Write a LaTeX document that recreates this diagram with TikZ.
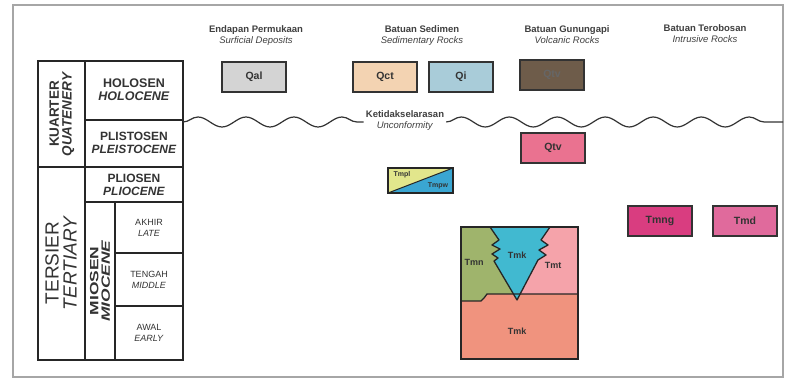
\documentclass[tikz,border=0pt]{standalone}
\usepackage{fontspec}
\setmainfont{Liberation Sans}
\usetikzlibrary{decorations.pathmorphing}
\definecolor[named]{QalGrey}{HTML}{D4D4D4}
\definecolor[named]{QctPeach}{HTML}{F3D3B2}
\definecolor[named]{QiBlue}{HTML}{A9CCD9}
\definecolor[named]{QtvBrown}{HTML}{6E5C4A}
\definecolor[named]{QtvPink}{HTML}{EA7290}
\definecolor[named]{TmplYellow}{HTML}{E2E68C}
\definecolor[named]{TmpwBlue}{HTML}{3AA6D2}
\definecolor[named]{TmngMagenta}{HTML}{D93D80}
\definecolor[named]{TmdPink}{HTML}{E06A9C}
\definecolor[named]{TmnGreen}{HTML}{9FB46C}
\definecolor[named]{TmkCyan}{HTML}{41B9D0}
\definecolor[named]{TmtPink}{HTML}{F5A3AA}
\definecolor[named]{TmkSalmon}{HTML}{F0937E}
% font size and baseline skip, both in pt
\newcommand{\fs}[2]{\fontsize{#1}{#2}\selectfont}
\tikzset{
  unitbox/.style={draw=black!80,line width=1.3pt,minimum width=64pt,minimum height=30pt,
    inner sep=0pt,font=\bfseries\fs{10.5}{12},text=black!80},
  head/.style={align=center,inner sep=0pt,font=\fs{9.5}{11},text=black!75},
  cell/.style={align=center,inner sep=0pt,font=\bfseries\fs{12}{12.6},text=black!80},
  subcell/.style={align=center,inner sep=0pt,font=\fs{9}{10.8},text=black!80},
  ulabel/.style={inner sep=0pt,font=\bfseries\fs{9}{10},text=black!80},
  wave/.style={decorate,decoration={snake,amplitude=5pt,segment length=48pt},line width=1.2pt,black!80},
}
\begin{document}
\begin{tikzpicture}[x=1pt,y=-1pt]
    \useasboundingbox (0,0) rectangle (785,379);
    \fill[white] (0,0) rectangle (785,379);

    % Frame
    \draw[gray!70,line width=1.5pt] (13,5) rectangle (783,377);

    % Time table
    \begin{scope}[line width=1.4pt,black!85]
      \draw (38,61) rectangle (183,360);
      \draw[line width=2.4pt] (38,61) -- (38,360);
      \draw[line width=2pt] (85,61) -- (85,360);
      \draw (85,120) -- (183,120);
      \draw (38,167) -- (183,167);
      \draw (85,202) -- (183,202);
      \draw (115,202) -- (115,360);
      \draw (115,253) -- (183,253);
      \draw (115,306) -- (183,306);
    \end{scope}
    \node[cell,rotate=90,font=\bfseries\fs{13.5}{12.8}] (quat) at (62,114) {KUARTER\\\textit{QUATENERY}};
    \node[cell,rotate=90,font=\fs{19}{18}] (tert) at (61,263) {TERSIER\\\textit{TERTIARY}};
    \node[cell,rotate=90,font=\bfseries\fs{12}{11.4}] (mio) at (100,281)
      {\scalebox{1.45}[1]{MIOSEN}\\\scalebox{1.45}[1]{\textit{MIOCENE}}};
    \node[cell,font=\bfseries\fs{12.5}{13}] (holo) at (134,90) {HOLOSEN\\\textit{HOLOCENE}};
    \node[cell] (plei) at (134,143) {PLISTOSEN\\\textit{PLEISTOCENE}};
    \node[cell] (plio) at (134,185) {PLIOSEN\\\textit{PLIOCENE}};
    \node[subcell] (late) at (149,228) {AKHIR\\\textit{LATE}};
    \node[subcell] (middle) at (149,280) {TENGAH\\\textit{MIDDLE}};
    \node[subcell] (early) at (149,333) {AWAL\\\textit{EARLY}};

    % Column heads
    \node[head] (hsurf) at (256,36) {\textbf{Endapan Permukaan}\\\textit{Surficial Deposits}};
    \node[head] (hsed) at (422,36) {\textbf{Batuan Sedimen}\\\textit{Sedimentary Rocks}};
    \node[head] (hvolc) at (567,35) {\textbf{Batuan Gunungapi}\\\textit{Volcanic Rocks}};
    \node[head] (hintr) at (705,34) {\textbf{Batuan Terobosan}\\\textit{Intrusive Rocks}};

    % Quaternary units
    \node[unitbox,fill=QalGrey] (Qal) at (254,77) {Qal};
    \node[unitbox,fill=QctPeach] (Qct) at (385,77) {Qct};
    \node[unitbox,fill=QiBlue] (Qi) at (461,77) {Qi};
    \node[unitbox,fill=QtvBrown,text=black!60] (Qtv) at (552,75) {Qtv};
    \node[unitbox,fill=QtvPink] (Qtvb) at (553,148) {Qtv};

    % Unconformity
    \node[head] (uncon) at (405,121) {\textbf{Ketidakselarasan}\\\textit{Unconformity}};
    \coordinate (W1) at (183,122);
    \coordinate (W2) at (783,122);
    \draw[wave] (W1) -- ([xshift=-2pt]uncon.west |- W1);
    \draw[wave] ([xshift=2pt]uncon.east |- W2) -- (W2);

    % Pliocene unit
    \fill[TmplYellow] (388,168) -- (453,168) -- (388,193) -- cycle;
    \fill[TmpwBlue] (453,168) -- (453,193) -- (388,193) -- cycle;
    \draw[black!85,line width=1pt] (388,193) -- (453,168);
    \draw[black!85,line width=1.3pt] (388,168) rectangle (453,193);
    \node[ulabel,font=\bfseries\fs{7}{8}] (Tmpl) at (402,175) {Tmpl};
    \node[ulabel,font=\bfseries\fs{7}{8}] (Tmpw) at (438,186) {Tmpw};

    % Intrusive units
    \node[unitbox,fill=TmngMagenta] (Tmng) at (660,221) {Tmng};
    \node[unitbox,fill=TmdPink] (Tmd) at (745,221) {Tmd};

    % Miocene block
    \path (461,227) coordinate (BTL) (578,227) coordinate (BTR)
      (578,359) coordinate (BBR) (461,359) coordinate (BBL)
      (517,300) coordinate (Vtip);
    \fill[TmkSalmon] (BTL) rectangle (BBR);
    \fill[TmnGreen] (BTL) -- (490,227) -- (499,240) -- (492,245) -- (500,249) -- (492,254)
      -- (498,258) -- (494,261) -- (513.5,294) -- (487,294) -- (484,298) -- (481,301)
      -- (461,301) -- cycle;
    \fill[TmtPink] (550,227) -- (BTR) -- (578,294) -- (520.2,294) -- (538,260) -- (546,255)
      -- (539,250) -- (548,245) -- (541,240) -- cycle;
    \draw[black!85,line width=1.3pt,fill=TmkCyan,line join=round] (490,227) -- (499,240) -- (492,245)
      -- (500,249) -- (492,254) -- (498,258) -- (494,261) -- (Vtip) -- (538,260) -- (546,255)
      -- (539,250) -- (548,245) -- (541,240) -- (550,227);
    \draw[black!85,line width=1.3pt] (461,301) -- (481,301) -- (484,298) -- (487,294) -- (578,294);
    \draw[black!85,line width=1.3pt] (BTL) rectangle (BBR);
    \node[ulabel] (Tmn) at (474,262) {Tmn};
    \node[ulabel] (TmkV) at (517,255) {Tmk};
    \node[ulabel] (Tmt) at (553,265) {Tmt};
    \node[ulabel] (Tmk) at (517,331) {Tmk};

\end{tikzpicture}
\end{document}
